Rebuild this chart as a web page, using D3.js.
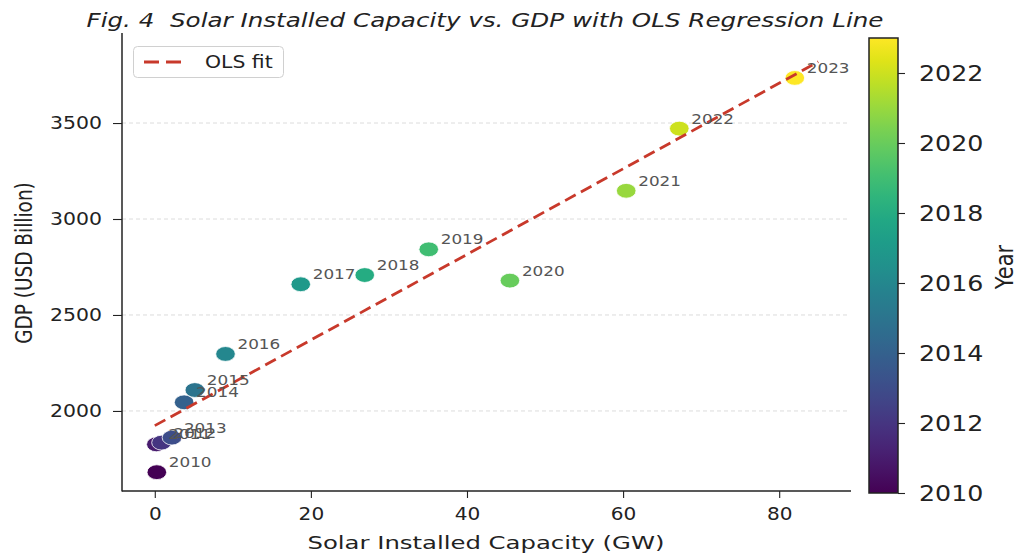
<!DOCTYPE html>
<html>
<head>
<meta charset="utf-8">
<script src="https://cdn.jsdelivr.net/npm/d3@7"></script>
<style>
  html, body { margin: 0; padding: 0; background: #fff; }
  svg { display: block; font-family: "DejaVu Sans", sans-serif; }
</style>
</head>
<body>
<svg id="chart" width="1016" height="553"></svg>
<script>
// Solar installed capacity (GW) and GDP (USD billion), one point per year
const years    = [2010, 2011, 2012, 2013, 2014, 2015, 2016, 2017, 2018, 2019, 2020, 2021, 2022, 2023];
const capacity = [0.26, 0.2, 0.86, 2.2, 3.76, 5.13, 9.06, 18.7, 26.9, 35.1, 45.5, 60.4, 67.2, 82.0];
const gdp      = [1681, 1826, 1835, 1861, 2045, 2109, 2297, 2660, 2708, 2842, 2679, 3147, 3471, 3735];

const xTicks = [0, 20, 40, 60, 80];
const yTicks = [2000, 2500, 3000, 3500];
const yearTicks = [2010, 2012, 2014, 2016, 2018, 2020, 2022];
const fitRange = [0, 85];

const svg = d3.select("#chart");

// widen text horizontally by a factor (keeps the wide look of the figure)
function widen(sel, sx) {
  sel.each(function () {
    const len = this.getComputedTextLength();
    d3.select(this).attr("textLength", len * sx).attr("lengthAdjust", "spacingAndGlyphs");
  });
}

const plot = { left: 122, right: 851, top: 33, bottom: 491 };
const x = d3.scaleLinear().domain([-4.2, 89.2]).range([plot.left, plot.right]);
const y = d3.scaleLinear().domain([1583, 3969]).range([plot.bottom, plot.top]);
const color = d3.scaleSequential(d3.interpolateViridis).domain([2010, 2023]);

// horizontal grid
svg.append("g").selectAll("line").data(yTicks).join("line")
  .attr("x1", plot.left).attr("x2", plot.right - 3)
  .attr("y1", d => y(d)).attr("y2", d => y(d))
  .attr("stroke", "#dcdcdc").attr("stroke-width", 1).attr("stroke-dasharray", "4,3");

// axes
const xAxis = svg.append("g").attr("transform", `translate(0,${plot.bottom})`)
  .call(d3.axisBottom(x).tickValues(xTicks).tickFormat(d3.format("d")).tickSize(7).tickPadding(10));
const yAxis = svg.append("g").attr("transform", `translate(${plot.left},0)`)
  .call(d3.axisLeft(y).tickValues(yTicks).tickFormat(d3.format("d")).tickSize(9).tickPadding(11));
[xAxis, yAxis].forEach(a => {
  a.select(".domain").remove();
  a.selectAll(".tick line").attr("stroke", "#222").attr("stroke-width", 1.1);
  a.selectAll(".tick text").attr("font-family", "DejaVu Sans").attr("font-size", 17).attr("fill", "#222");
});
widen(xAxis.selectAll(".tick text"), 1.18);
widen(yAxis.selectAll(".tick text"), 1.2);

// spines
svg.append("line").attr("x1", plot.left).attr("x2", plot.left)
  .attr("y1", plot.top).attr("y2", plot.bottom + 0.5).attr("stroke", "#222").attr("stroke-width", 1.5);
svg.append("line").attr("x1", plot.left).attr("x2", plot.right)
  .attr("y1", plot.bottom).attr("y2", plot.bottom).attr("stroke", "#222").attr("stroke-width", 1.5);

// points
const pts = years.map((yr, i) => ({ year: yr, cap: capacity[i], gdp: gdp[i] }));
svg.append("g").selectAll("ellipse").data(pts).join("ellipse")
  .attr("cx", d => x(d.cap)).attr("cy", d => y(d.gdp))
  .attr("rx", 9.8).attr("ry", 7.4)
  .attr("fill", d => color(d.year))
  .attr("stroke", "#fff").attr("stroke-width", 0.8);

// ordinary least squares fit of GDP on capacity
const mx = d3.mean(capacity), my = d3.mean(gdp);
const sxy = d3.sum(capacity, (c, i) => (c - mx) * (gdp[i] - my));
const sxx = d3.sum(capacity, c => (c - mx) * (c - mx));
const slope = sxy / sxx, intercept = my - slope * mx;
svg.append("line")
  .attr("x1", x(fitRange[0])).attr("y1", y(intercept + slope * fitRange[0]))
  .attr("x2", x(fitRange[1])).attr("y2", y(intercept + slope * fitRange[1]))
  .attr("stroke", "#c8392b").attr("stroke-width", 2.8).attr("stroke-dasharray", "12,6");

// year annotations
const ann = svg.append("g").selectAll("text").data(pts).join("text")
  .attr("x", d => x(d.cap) + 12).attr("y", d => y(d.gdp) - 5)
  .attr("font-size", 14).attr("fill", "#555")
  .text(d => d.year);
widen(ann, 1.2);

// legend
const lg = svg.append("g");
lg.append("rect").attr("x", 133.5).attr("y", 46.5).attr("width", 150).attr("height", 31)
  .attr("rx", 4).attr("fill", "#fff").attr("fill-opacity", 0.85)
  .attr("stroke", "#d0d0d0").attr("stroke-width", 1);
lg.append("line").attr("x1", 144).attr("x2", 181).attr("y1", 62).attr("y2", 62)
  .attr("stroke", "#c8392b").attr("stroke-width", 2.8).attr("stroke-dasharray", "15,7");
const lgText = lg.append("text").attr("x", 205).attr("y", 68).attr("font-size", 17).attr("fill", "#222").text("OLS fit");
widen(lgText, 1.2);

// colorbar
const cb = { left: 869, width: 29, top: 38, bottom: 493 };
const cy = d3.scaleLinear().domain([2010, 2023]).range([cb.bottom, cb.top]);
const grad = svg.append("defs").append("linearGradient").attr("id", "viridis")
  .attr("x1", 0).attr("y1", 1).attr("x2", 0).attr("y2", 0);
d3.range(0, 1.0001, 0.05).forEach(t => {
  grad.append("stop").attr("offset", t).attr("stop-color", d3.interpolateViridis(t));
});
svg.append("rect").attr("x", cb.left).attr("y", cb.top).attr("width", cb.width)
  .attr("height", cb.bottom - cb.top).attr("fill", "url(#viridis)")
  .attr("stroke", "#222").attr("stroke-width", 1.5);
const cbAxis = svg.append("g").attr("transform", `translate(${cb.left + cb.width},0)`)
  .call(d3.axisRight(cy).tickValues(yearTicks).tickFormat(d3.format("d")).tickSize(7).tickPadding(14));
cbAxis.select(".domain").remove();
cbAxis.selectAll(".tick line").attr("stroke", "#222").attr("stroke-width", 1.1);
cbAxis.selectAll(".tick text").attr("font-family", "DejaVu Sans").attr("font-size", 22).attr("fill", "#222");
widen(cbAxis.selectAll(".tick text"), 1.15);

svg.append("text").attr("transform", "translate(1013,267) scale(1.15,1) rotate(-90)")
  .attr("text-anchor", "middle").attr("font-size", 21).attr("fill", "#222").text("Year");

// axis titles
svg.append("text").attr("x", 486).attr("y", 549).attr("text-anchor", "middle")
  .attr("font-size", 18).attr("fill", "#222")
  .attr("textLength", 357).attr("lengthAdjust", "spacingAndGlyphs")
  .text("Solar Installed Capacity (GW)");
svg.append("text").attr("transform", "translate(32,263) scale(1.2,1) rotate(-90)")
  .attr("text-anchor", "middle").attr("font-size", 18.5).attr("fill", "#222")
  .text("GDP (USD Billion)");

// title
svg.append("text").attr("x", 485).attr("y", 27).attr("text-anchor", "middle")
  .attr("font-size", 20).attr("font-style", "italic").attr("fill", "#222")
  .attr("xml:space", "preserve").style("white-space", "pre")
  .attr("textLength", 797).attr("lengthAdjust", "spacingAndGlyphs")
  .text("Fig. 4  Solar Installed Capacity vs. GDP with OLS Regression Line");
</script>
</body>
</html>
